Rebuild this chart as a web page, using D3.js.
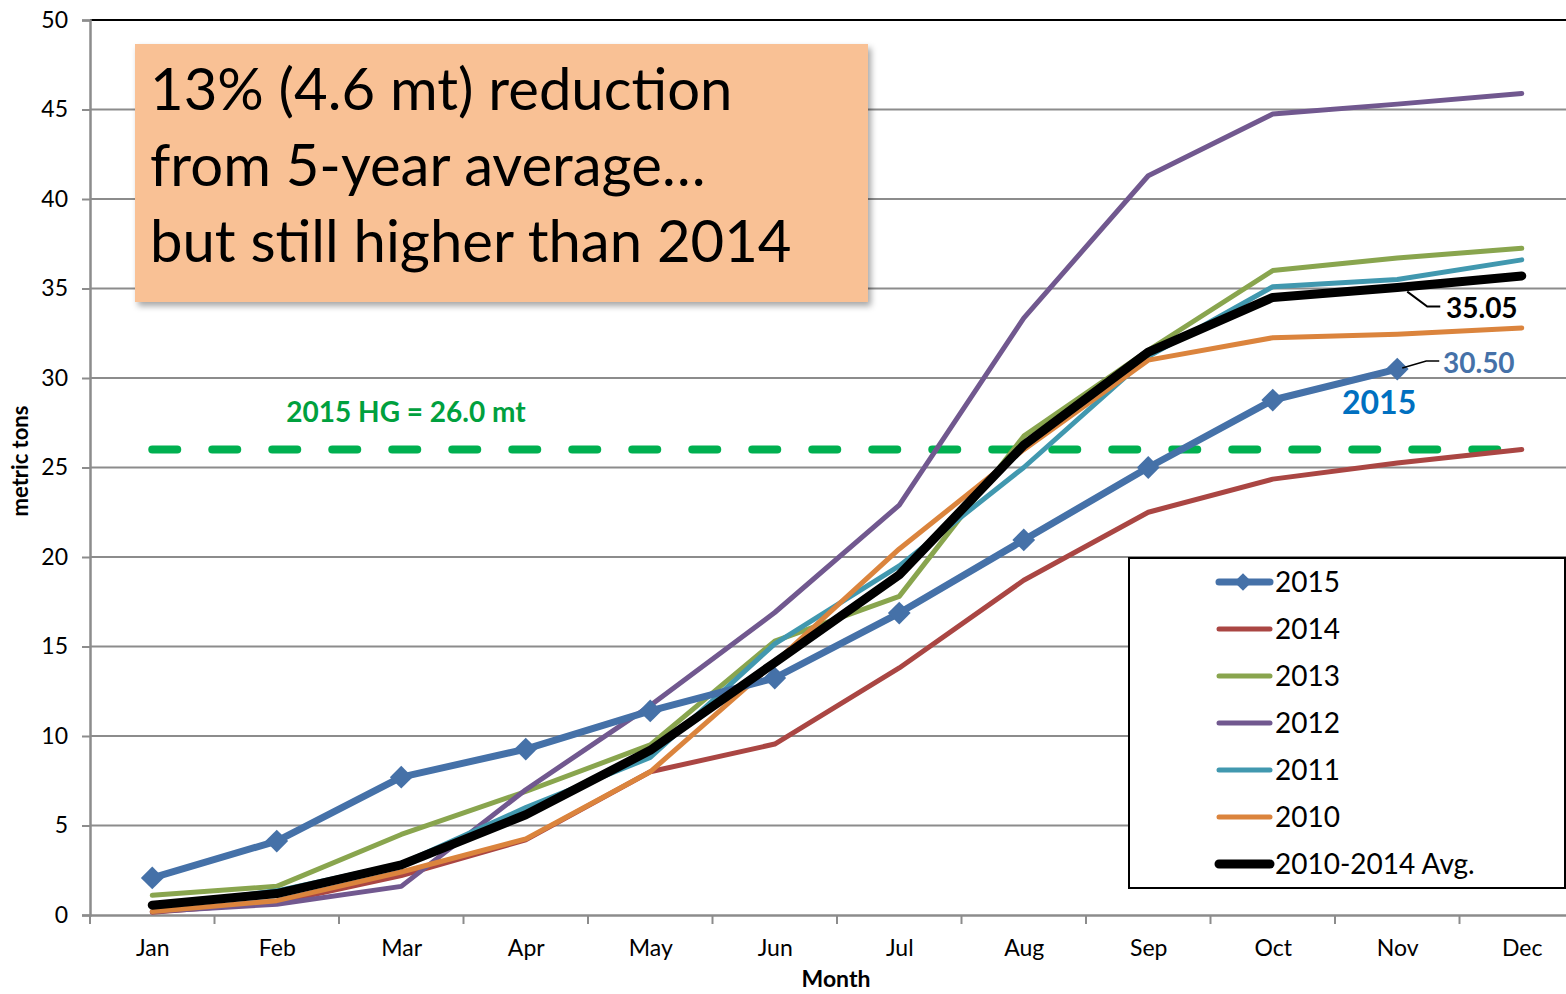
<!DOCTYPE html>
<html>
<head>
<meta charset="utf-8">
<script src="https://cdn.jsdelivr.net/npm/d3@7"></script>
<style>
  html, body { margin: 0; padding: 0; background: #fff; }
  svg { display: block; font-family: Lato, "Open Sans", sans-serif; }
</style>
</head>
<body>
<svg id="chart" width="1566" height="994"></svg>
<script>
// ---- data ----
const months = ["Jan", "Feb", "Mar", "Apr", "May", "Jun", "Jul", "Aug", "Sep", "Oct", "Nov", "Dec"];
const yTicks = [0, 5, 10, 15, 20, 25, 30, 35, 40, 45, 50];

const v2015 = [2.07, 4.13, 7.7, 9.27, 11.4, 13.24, 16.87, 20.95, 25.0, 28.77, 30.5];
const v2014 = [0.15, 0.7, 2.2, 4.2, 8.0, 9.55, 13.8, 18.7, 22.5, 24.35, 25.25, 26.0];
const v2013 = [1.1, 1.6, 4.5, 6.9, 9.5, 15.3, 17.8, 26.75, 31.55, 36.0, 36.7, 37.25];
const v2012 = [0.2, 0.6, 1.6, 7.0, 11.7, 16.9, 22.9, 33.35, 41.3, 44.75, 45.3, 45.9];
const v2011 = [0.45, 1.35, 2.85, 6.0, 8.8, 15.15, 19.5, 25.0, 31.2, 35.1, 35.5, 36.6];
const v2010 = [0.2, 0.8, 2.4, 4.25, 8.0, 14.1, 20.45, 26.0, 31.0, 32.25, 32.45, 32.8];
const vAvg  = [0.55, 1.2, 2.8, 5.6, 9.2, 14.1, 19.0, 26.25, 31.45, 34.5, 35.05, 35.7];
const hgLimit = 26.0;

const series = [
  { name: "2015", values: v2015, color: "#4571A8", width: 7, marker: true },
  { name: "2014", values: v2014, color: "#AA4643", width: 5 },
  { name: "2013", values: v2013, color: "#89A54E", width: 5 },
  { name: "2012", values: v2012, color: "#71588F", width: 5 },
  { name: "2011", values: v2011, color: "#4198AF", width: 5 },
  { name: "2010", values: v2010, color: "#DB843D", width: 5 },
  { name: "2010-2014 Avg.", values: vAvg, color: "#000000", width: 9 }
];
// draw order: older years under, 2015 and avg on top
const drawOrder = ["2014", "2013", "2012", "2011", "2010", "2015", "2010-2014 Avg."];

// ---- layout ----
const svg = d3.select("#chart");
const m = { left: 90, top: 20, right: 1584, bottom: 915 };

const x = d3.scalePoint().domain(months).range([m.left, m.right]).padding(0.5);
const xb = d3.scaleBand().domain(months).range([m.left, m.right]);
const y = d3.scaleLinear().domain([0, 50]).range([m.bottom, m.top]);

const defs = svg.append("defs");
const shadow = defs.append("filter").attr("id", "shadow")
  .attr("x", "-5%").attr("y", "-5%").attr("width", "115%").attr("height", "120%");
shadow.append("feDropShadow").attr("dx", 3).attr("dy", 4).attr("stdDeviation", 3)
  .attr("flood-color", "#000").attr("flood-opacity", 0.35);

// gridlines
svg.append("g").selectAll("line").data(yTicks.filter(d => d > 0)).enter().append("line")
  .attr("x1", m.left).attr("x2", 1566)
  .attr("y1", d => y(d)).attr("y2", d => y(d))
  .attr("stroke", d => d === 50 ? "#000" : "#8c8c8c").attr("stroke-width", 2);

// y axis
const yAxis = svg.append("g").attr("transform", `translate(${m.left},0)`)
  .call(d3.axisLeft(y).tickValues(yTicks).tickSize(8).tickPadding(14));
yAxis.select(".domain").attr("stroke", "#8c8c8c").attr("stroke-width", 2.5);
yAxis.selectAll(".tick line").attr("stroke", "#8c8c8c").attr("stroke-width", 2);
yAxis.selectAll("text").attr("font-size", 23).attr("fill", "#000").attr("font-family", "Lato");

// x axis
const xAxis = svg.append("g").attr("transform", `translate(0,${m.bottom})`)
  .call(d3.axisBottom(x).tickSize(0).tickPadding(25));
xAxis.select(".domain").attr("stroke", "#8c8c8c").attr("stroke-width", 2.5);
xAxis.selectAll("text").attr("font-size", 23).attr("fill", "#000").attr("font-family", "Lato");
svg.append("g").selectAll("line").data(months).enter().append("line")
  .attr("x1", d => xb(d)).attr("x2", d => xb(d))
  .attr("y1", m.bottom).attr("y2", m.bottom + 9)
  .attr("stroke", "#8c8c8c").attr("stroke-width", 2);

// axis titles
svg.append("text").attr("x", 836).attr("y", 987).attr("text-anchor", "middle")
  .attr("font-size", 23).attr("font-weight", "bold").text("Month");
svg.append("text").attr("transform", "translate(28,461) rotate(-90)")
  .attr("text-anchor", "middle").attr("font-size", 22).attr("font-weight", "bold")
  .text("metric tons");

// HG limit line
svg.append("line")
  .attr("x1", x("Jan")).attr("x2", x("Dec"))
  .attr("y1", y(hgLimit)).attr("y2", y(hgLimit))
  .attr("stroke", "#00B050").attr("stroke-width", 8)
  .attr("stroke-dasharray", "25,35").attr("stroke-linecap", "round");
svg.append("text").attr("x", 406).attr("y", 422).attr("text-anchor", "middle")
  .attr("font-size", 28).attr("font-weight", "bold").attr("fill", "#00A03E")
  .text("2015 HG = 26.0 mt");

// lines
const line = d3.line().x((d, i) => x(months[i])).y(d => y(d));
const byName = new Map(series.map(s => [s.name, s]));
const gLines = svg.append("g");
drawOrder.forEach(n => {
  const s = byName.get(n);
  gLines.append("path").datum(s.values)
    .attr("fill", "none").attr("stroke", s.color).attr("stroke-width", s.width)
    .attr("stroke-linejoin", "round").attr("stroke-linecap", "round")
    .attr("d", line);
  if (s.marker) {
    gLines.selectAll(null).data(s.values).enter().append("path")
      .attr("transform", (d, i) => `translate(${x(months[i])},${y(d)})`)
      .attr("d", d3.symbol(d3.symbolDiamond2, 330))
      .attr("fill", s.color);
  }
});

// data labels
const nov = "Nov";
svg.append("polyline")
  .attr("points", `${x(nov) + 10},${y(vAvg[10]) + 4} ${x(nov) + 30},${y(vAvg[10]) + 19} ${x(nov) + 43},${y(vAvg[10]) + 19}`)
  .attr("fill", "none").attr("stroke", "#000").attr("stroke-width", 2);
svg.append("text").attr("x", 1446).attr("y", 318).attr("font-size", 28).attr("font-weight", "bold")
  .attr("fill", "#000").text(vAvg[10].toFixed(2));
svg.append("polyline")
  .attr("points", `${x(nov) + 5},${y(v2015[10]) - 1} ${x(nov) + 29},${y(v2015[10]) - 8} ${x(nov) + 42},${y(v2015[10]) - 8}`)
  .attr("fill", "none").attr("stroke", "#000").attr("stroke-width", 1.5);
svg.append("text").attr("x", 1443).attr("y", 373).attr("font-size", 28).attr("font-weight", "bold")
  .attr("fill", "#4571A8").text(v2015[10].toFixed(2));
svg.append("text").attr("x", 1342).attr("y", 414).attr("font-size", 32).attr("font-weight", "bold")
  .attr("fill", "#0070C0").text("2015");

// annotation box
svg.append("rect").attr("x", 135).attr("y", 44).attr("width", 733).attr("height", 258)
  .attr("fill", "#F9C195").attr("filter", "url(#shadow)");
const note = ["13% (4.6 mt) reduction", "from 5-year average\u2026", "but still higher than 2014"];
svg.append("g").selectAll("text").data(note).enter().append("text")
  .attr("x", 150).attr("y", (d, i) => 110 + i * 76)
  .attr("font-size", 58).attr("fill", "#000").text(d => d);

// legend
const lg = svg.append("g");
lg.append("rect").attr("x", 1129).attr("y", 558).attr("width", 436).attr("height", 330)
  .attr("fill", "#fff").attr("stroke", "#000").attr("stroke-width", 2);
series.forEach((s, i) => {
  const cy = 582 + i * 47;
  lg.append("line").attr("x1", 1219).attr("x2", 1270).attr("y1", cy).attr("y2", cy)
    .attr("stroke", s.color).attr("stroke-width", s.name === "2010-2014 Avg." ? 9 : (s.marker ? 7 : 5))
    .attr("stroke-linecap", "round");
  if (s.marker) {
    lg.append("path").attr("transform", `translate(1243,${cy})`)
      .attr("d", d3.symbol(d3.symbolDiamond2, 200)).attr("fill", s.color);
  }
  lg.append("text").attr("x", 1275).attr("y", cy + 10).attr("font-size", 28)
    .attr("fill", "#000").text(s.name);
});
</script>
</body>
</html>
